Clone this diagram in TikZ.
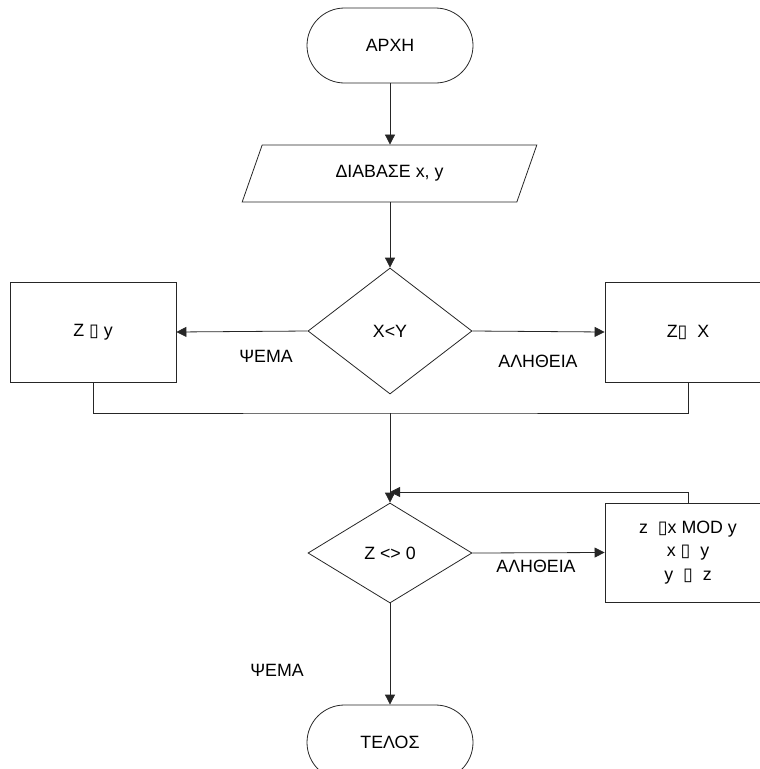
\documentclass[tikz,border=0pt]{standalone}
\usepackage{fontspec}
\setmainfont{Liberation Sans}
\newfontfamily\symf{DejaVu Sans}
\newcommand{\bx}{{\symf ▯}}
\usetikzlibrary{shapes.geometric,shapes.misc,arrows.meta}
\begin{document}
\begin{tikzpicture}[x=1pt,y=-1pt,
  every node/.style={font=\fontsize{17.8}{23.5}\selectfont, text=black},
  line/.style={draw=black!85, line width=0.8pt},
  arr/.style={line, -{Triangle[length=10pt,width=10pt]}},
  termbox/.style={line, rounded rectangle, minimum width=166pt, minimum height=75pt, inner sep=0pt},
  iobox/.style={line, trapezium, trapezium left angle=62, trapezium right angle=118,
     trapezium stretches=true, minimum width=295pt, minimum height=57pt, inner sep=0pt},
  decbox/.style={line, diamond, minimum width=164pt, inner sep=0pt},
  procbox/.style={line, rectangle, minimum width=166pt, minimum height=100pt, inner sep=0pt, align=center},
  lbl/.style={inner sep=0pt}
]
\useasboundingbox (0,0) rectangle (760,769);
\clip (0,0) rectangle (760,769);

\node[termbox] (start) at (390,45.5) {ΑΡΧΗ};
\node[iobox] (read) at (389.5,173.5) {ΔΙΑΒΑΣΕ x, y};
\node[decbox, minimum height=126pt] (dec1) at (390,331) {Χ<Υ};
\node[procbox] (left) at (93,332) {Ζ \bx\ y};
\node[procbox] (right) at (688,332) {Ζ\bx\ \ Χ};
\node[decbox, minimum height=100pt] (dec2) at (390,553) {Ζ <> 0};
\node[procbox, minimum height=99pt] (body) at (688,552.5) {z \ \bx x MOD y\\x \bx\ \ y\\y \ \bx\ \ z};
\node[termbox] (stop) at (390,742.5) {ΤΕΛΟΣ};

\node[lbl] (f1) at (266,356) {ΨΕΜΑ};
\node[lbl] (t1) at (538,361) {ΑΛΗΘΕΙΑ};
\node[lbl] (t2) at (536,566) {ΑΛΗΘΕΙΑ};
\node[lbl] (f2) at (277,670) {ΨΕΜΑ};

\coordinate (merge) at (390,413);
\coordinate (join) at (390,492);

\draw[arr] (start.south) -- (start.south |- read.north);
\draw[arr] (dec1.north |- read.south) -- (dec1.north);
\draw[arr] (dec1.west) -- (left.east);
\draw[arr] (dec1.east) -- (right.west);
\draw[line] (left.south) |- (merge) -| (right.south);
\draw[arr] (merge) -- (dec2.north);
\draw[arr] (body.north) |- (join);
\draw[arr] (dec2.east) -- (body.west);
\draw[arr] (dec2.south) -- (stop.north);
\end{tikzpicture}
\end{document}
